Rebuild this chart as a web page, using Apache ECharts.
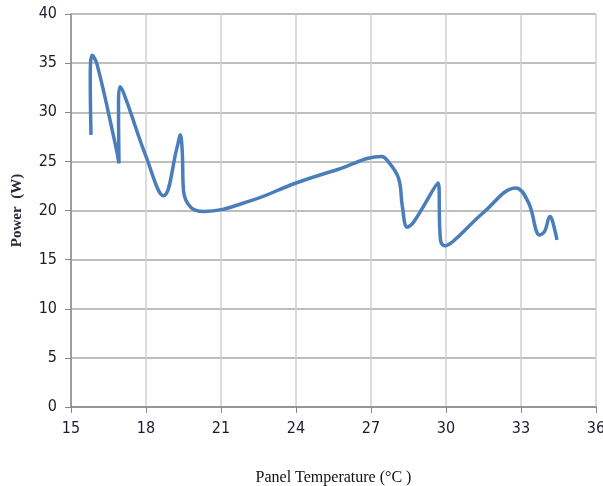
<!DOCTYPE html>
<html><head><meta charset="utf-8">
<script src="https://cdn.jsdelivr.net/npm/echarts@6/dist/echarts.min.js"></script>
<style>html,body{margin:0;padding:0;background:#fff}#c{width:603px;height:486px}</style>
</head><body><div id="c"></div>
<script>
const temps = [15.8, 15.77, 15.85, 16.05, 16.75, 16.92, 16.9, 16.97, 17.2, 18.0, 18.7, 19.25, 19.37, 19.45, 19.5, 19.8, 20.3, 22.2, 24.0, 25.7, 27.43, 27.65, 28.1, 28.25, 28.45, 28.7, 29.68, 29.78, 29.95, 30.3, 31.5, 32.8, 33.3, 33.75, 33.95, 34.16, 34.25, 34.44];
const power = [27.7, 33.5, 35.8, 34.8, 27.0, 24.8, 31.0, 32.6, 31.3, 25.5, 21.5, 26.5, 27.7, 26.0, 22.0, 20.3, 19.9, 21.0, 22.8, 24.2, 25.5, 25.1, 23.3, 20.5, 18.3, 18.8, 22.8, 17.0, 16.4, 16.9, 19.8, 22.3, 20.8, 17.5, 17.9, 19.4, 19.0, 17.0];
const xTicks = [15, 18, 21, 24, 27, 30, 33, 36];
const yTicks = [0, 5, 10, 15, 20, 25, 30, 35, 40];

const chart = echarts.init(document.getElementById('c'), null, {renderer: 'canvas'});
const narrow = '"Liberation Sans Narrow", "DejaVu Sans Condensed", sans-serif';
chart.setOption({
  animation: false,
  grid: {left: 71, right: 7, top: 14, bottom: 79, outerBoundsMode: 'none', containLabel: false},
  xAxis: {
    type: 'value', min: xTicks[0], max: xTicks[xTicks.length-1], interval: 3,
    name: 'Panel Temperature (°C )', nameLocation: 'middle', nameGap: 63,
    nameTextStyle: {fontFamily: '"Liberation Serif", serif', fontSize: 16, color: '#111'},
    axisLine: {lineStyle: {color: '#888', width: 1.5}},
    axisTick: {show: true, length: 6, lineStyle: {color: '#888'}},
    axisLabel: {fontFamily: narrow, fontSize: 16, color: '#1b1b2f', margin: 14},
    splitLine: {show: true, lineStyle: {color: '#d0d0d0', width: 1.5}}
  },
  yAxis: {
    type: 'value', min: yTicks[0], max: yTicks[yTicks.length-1], interval: 5,
    name: 'Power  (W)', nameLocation: 'middle', nameGap: 46,
    nameTextStyle: {fontFamily: '"Liberation Serif", serif', fontSize: 15, fontWeight: 'bold', color: '#2a2a3a'},
    axisLine: {show: true, lineStyle: {color: '#888', width: 1.5}},
    axisTick: {show: true, length: 6, lineStyle: {color: '#888'}},
    axisLabel: {fontFamily: narrow, fontSize: 16, color: '#1b1b2f', margin: 14},
    splitLine: {show: true, lineStyle: {color: '#a8a8a8', width: 1.5}}
  },
  series: [{
    type: 'line',
    data: temps.map((t, i) => [t, power[i]]),
    smooth: 0.4,
    showSymbol: false,
    lineStyle: {color: '#4a7ebb', width: 3.5}
  }]
});
</script></body></html>
